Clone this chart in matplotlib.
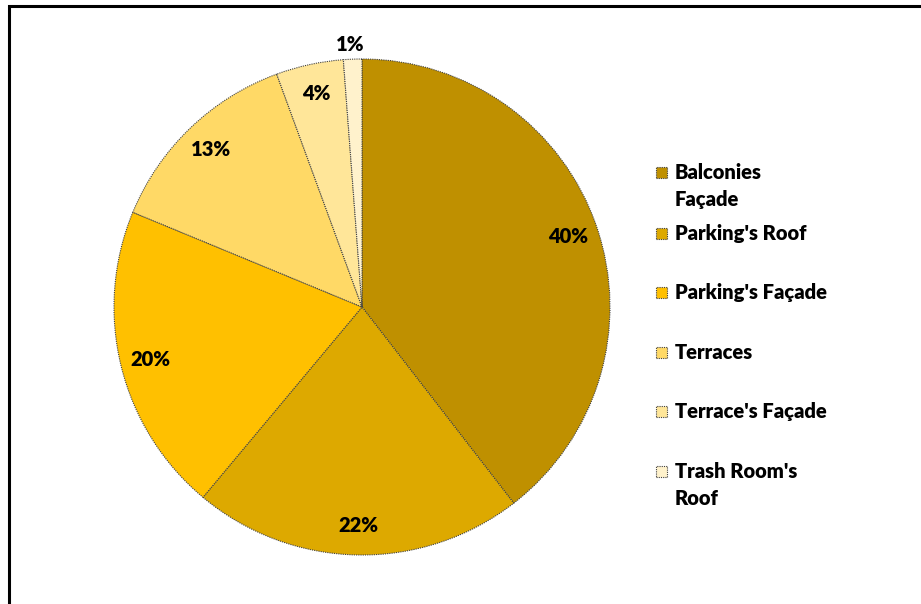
import matplotlib.pyplot as plt
import matplotlib
from matplotlib.patches import Rectangle
import numpy as np

matplotlib.rcParams['font.family'] = ['Lato', 'DejaVu Sans']

# данные (доли сняты по углам секторов, подписи округлены)
labels = ["Balconies\nFaçade", "Parking's Roof", "Parking's Façade",
          "Terraces", "Terrace's Façade", "Trash Room's\nRoof"]
shares = [39.6, 21.6, 20.2, 13.2, 4.4, 1.2]
colors = ["#BF9000", "#DDA900", "#FFC000", "#FFD966", "#FFE699", "#FFF2CC"]

fig = plt.figure(figsize=(9.21, 6.04), dpi=100)

# рамка области диаграммы
fig.patches.append(Rectangle((9 / 921, -0.1), 1.2, 1.1 - 6 / 604, transform=fig.transFigure,
                             fill=False, edgecolor='black', linewidth=2.2))

# круг: центр (362, 307), радиус 248 px
ax = fig.add_axes([(362 - 248) / 921, 1 - (307 + 248) / 604, 496 / 921, 496 / 604])
wedges, texts, autotexts = ax.pie(
    shares, colors=colors, startangle=90, counterclock=False,
    autopct='%1.0f%%', pctdistance=0.88,
    wedgeprops=dict(edgecolor='#404040', linewidth=0.8, linestyle=(0, (1, 1))),
    textprops=dict(fontsize=14.5, fontweight='heavy', color='black'))
ax.set_xlim(-1, 1)
ax.set_ylim(-1, 1)
ax.set_aspect('equal')

# маленький сектор — подпись снаружи
w = wedges[-1]
ang = np.deg2rad((w.theta1 + w.theta2) / 2 + 0.4)
autotexts[-1].set_position((1.06 * np.cos(ang), 1.06 * np.sin(ang)))

# легенда вручную (неравные интервалы как в Excel)
legend_y = [172, 233, 292, 352, 411, 471]
for lab, col, y in zip(labels, colors, legend_y):
    fig.patches.append(Rectangle((656 / 921, 1 - (y + 6) / 604), 11 / 921, 11 / 604,
                                 transform=fig.transFigure, facecolor=col,
                                 edgecolor='#404040', linewidth=0.8, linestyle=(0, (1, 1))))
    fig.text(675 / 921, 1 - (y - 9) / 604, lab, fontsize=14.5, fontweight='heavy',
             ha='left', va='top', linespacing=1.5)

plt.savefig('out.png', dpi=100)
plt.close()
